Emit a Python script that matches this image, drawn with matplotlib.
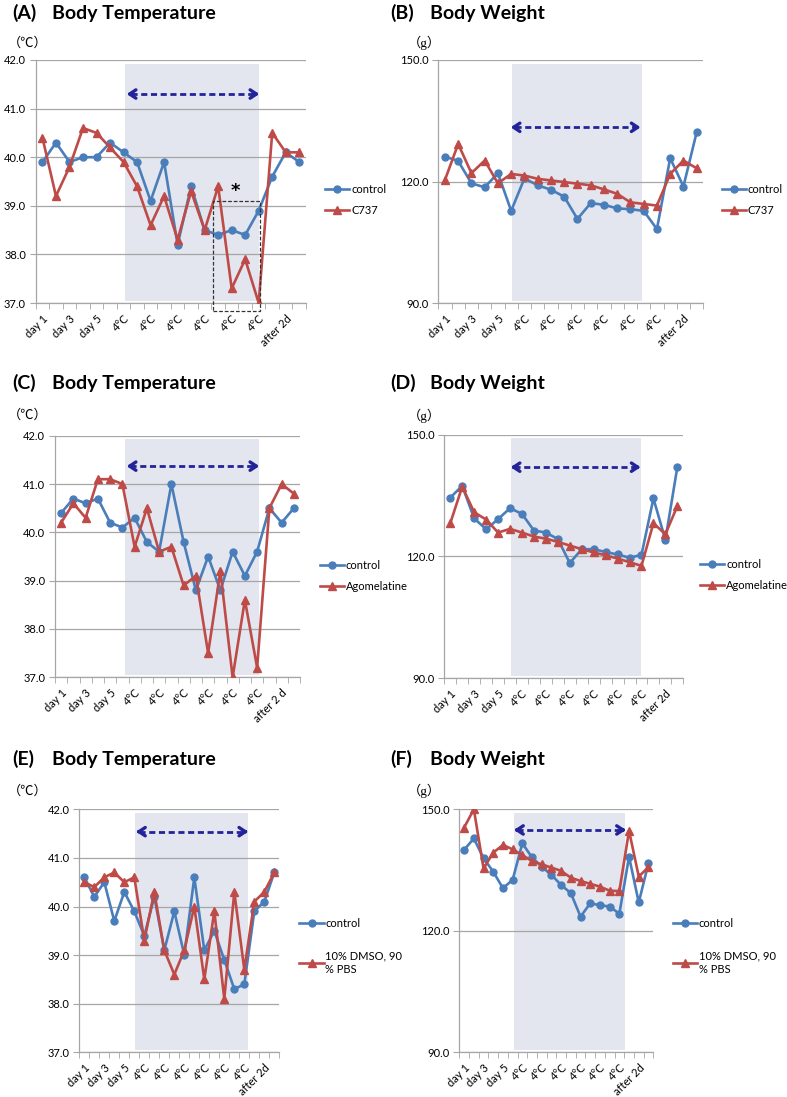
import numpy as np
import matplotlib
matplotlib.use('Agg')
import matplotlib.pyplot as plt
from matplotlib.patches import Rectangle

# --- data ---
TICK_LABELS = ['day 1', 'day 3', 'day 5', '4°C', '4°C', '4°C', '4°C', '4°C', '4°C', 'after 2d']
TICK_LABELS_C = ['day 1', 'day 3', 'day 5', '4°C', '4°C', '4°C', '4°C', '4°C', '4°C', 'after 2 d']

# (A) body temperature, C737
temp_ctrl_a = [39.9, 40.3, 39.9, 40.0, 40.0, 40.3, 40.1, 39.9, 39.1, 39.9,
               38.2, 39.4, 38.5, 38.4, 38.5, 38.4, 38.9, 39.6, 40.1, 39.9]
temp_c737 = [40.4, 39.2, 39.8, 40.6, 40.5, 40.2, 39.9, 39.4, 38.6, 39.2,
             38.3, 39.3, 38.5, 39.4, 37.3, 37.9, 37.0, 40.5, 40.1, 40.1]

# (B) body weight, C737
weight_ctrl_b = [126.2, 125.1, 119.6, 118.6, 122.1, 112.8, 120.8, 119.1, 118.0, 116.3,
                 110.8, 114.7, 114.3, 113.4, 113.2, 112.8, 108.3, 125.8, 118.8, 132.2]
weight_c737 = [120.4, 129.3, 122.1, 125.2, 119.6, 121.9, 121.5, 120.7, 120.3, 119.9,
               119.5, 119.1, 118.1, 117.0, 114.9, 114.5, 114.1, 121.9, 125.2, 123.3]

# (C) body temperature, Agomelatine
temp_ctrl_c = [40.4, 40.7, 40.6, 40.7, 40.2, 40.1, 40.3, 39.8, 39.6, 41.0,
               39.8, 38.8, 39.5, 38.8, 39.6, 39.1, 39.6, 40.5, 40.2, 40.5]
temp_agomelatine = [40.2, 40.6, 40.3, 41.1, 41.1, 41.0, 39.7, 40.5, 39.6, 39.7,
                    38.9, 39.1, 37.5, 39.2, 37.0, 38.6, 37.2, 40.5, 41.0, 40.8]

# (D) body weight, Agomelatine
weight_ctrl_d = [134.5, 137.4, 129.4, 126.7, 129.2, 131.9, 130.5, 126.4, 125.9, 124.3,
                 118.4, 121.8, 121.8, 121.1, 120.5, 119.7, 120.4, 134.3, 124.1, 142.0]
weight_agomelatine = [128.2, 137.2, 130.9, 129.1, 125.9, 126.8, 125.9, 124.9, 124.4, 123.6,
                      122.7, 121.8, 121.0, 120.3, 119.5, 118.6, 117.7, 128.2, 125.5, 132.4]

# (E) body temperature, vehicle
temp_ctrl_e = [40.6, 40.2, 40.5, 39.7, 40.3, 39.9, 39.4, 40.2, 39.1, 39.9,
               39.0, 40.6, 39.1, 39.5, 38.9, 38.3, 38.4, 39.9, 40.1, 40.7]
temp_dmso = [40.5, 40.4, 40.6, 40.7, 40.5, 40.6, 39.3, 40.3, 39.1, 38.6,
             39.1, 40.0, 38.5, 39.9, 38.1, 40.3, 38.7, 40.1, 40.3, 40.7]

# (F) body weight, vehicle
weight_ctrl_f = [140.0, 142.8, 137.9, 134.6, 130.5, 132.6, 141.6, 138.1, 135.8, 133.8,
                 131.3, 129.3, 123.5, 126.8, 126.3, 126.0, 124.2, 138.3, 127.0, 136.7]
weight_dmso = [145.5, 150.0, 135.4, 139.3, 141.2, 140.1, 138.7, 137.2, 136.4, 135.6,
               134.8, 133.1, 132.3, 131.6, 130.9, 129.9, 129.8, 144.7, 133.4, 135.7]

# --- style ---
W, H = 787, 1097
BLUE = '#4a7ebb'
RED = '#be4b48'
NAVY = '#24249a'
SHADE = '#e3e6ee'
GRID = '#a6a6a6'
FONT = ['Lato', 'DejaVu Sans']

plt.rcParams['font.family'] = FONT

fig = plt.figure(figsize=(W / 100, H / 100), dpi=100)


def draw_panel(box, ctrl, treat, treat_label, ylim, ystep, labels,
               shade, arrow, legend_pos, labelspacing=0.9):
    l, t, r, b = box
    ax = fig.add_axes([l / W, 1 - b / H, (r - l) / W, (b - t) / H])
    x = np.arange(1, len(ctrl) + 1)

    ax.axvspan(shade[0], shade[1], ymin=0.01, ymax=0.985, color=SHADE, lw=0, zorder=0)
    ax.plot(x, ctrl, color=BLUE, marker='o', ms=5, lw=1.9, label='control', zorder=3)
    ax.plot(x, treat, color=RED, marker='^', ms=5.5, lw=1.9, label=treat_label, zorder=4)

    # cold exposure arrow
    x0, x1, ya = arrow
    ax.plot([x0 + 0.3, x1 - 0.3], [ya, ya], color=NAVY, lw=2.0,
            ls=(0, (2.2, 1.3)), solid_capstyle='butt', zorder=5)
    for tip, tail in ((x0, x0 + 0.5), (x1, x1 - 0.5)):
        ax.annotate('', xy=(tip, ya), xytext=(tail, ya),
                    arrowprops=dict(arrowstyle='->,head_length=0.45,head_width=0.3',
                                    color=NAVY, lw=2.4, shrinkA=0, shrinkB=0),
                    zorder=5)

    ax.set_xlim(0.5, len(ctrl) + 0.5)
    ax.set_ylim(*ylim)
    ax.set_yticks(np.arange(ylim[0], ylim[1] + ystep / 2, ystep))
    ax.yaxis.set_major_formatter(matplotlib.ticker.FormatStrFormatter('%.1f'))
    ax.yaxis.grid(True, color=GRID, lw=0.9)
    ax.set_axisbelow(True)

    ax.set_xticks(np.arange(1, len(ctrl) + 1, 2))
    ax.set_xticklabels(labels, rotation=45, ha='right', rotation_mode='anchor', fontsize=8)
    ax.set_xticks(np.arange(0.5, len(ctrl) + 1, 1), minor=True)
    ax.tick_params(axis='x', which='major', length=0, pad=7)
    ax.tick_params(axis='x', which='minor', length=4, color=GRID, direction='out')
    ax.tick_params(axis='y', length=4, color=GRID, labelsize=8, pad=3)

    for side in ('top', 'right'):
        ax.spines[side].set_visible(False)
    for side in ('left', 'bottom'):
        ax.spines[side].set_color(GRID)
        ax.spines[side].set_linewidth(0.9)

    ax.legend(loc='center left', bbox_to_anchor=legend_pos, frameon=False,
              fontsize=8, handlelength=2.2, handletextpad=0.15,
              labelspacing=labelspacing, borderaxespad=0, borderpad=0)
    return ax


def panel_title(x, y, letter, name):
    fig.text(x / W, 1 - y / H, letter, fontsize=14, fontweight='bold', va='center')
    fig.text((x + 40) / W, 1 - y / H, name, fontsize=14, fontweight='bold', va='center')


def unit_label(x, y, txt, family):
    fig.text(x / W, 1 - y / H, txt, fontsize=9.5, va='center', family=family)


TEMP_UNIT = ['Noto Sans CJK JP', 'DejaVu Sans']
WEIGHT_UNIT = ['Liberation Serif', 'Noto Sans CJK JP']

# (A)
panel_title(12, 13, '(A)', 'Body Temperature')
unit_label(8, 43, '（℃）', TEMP_UNIT)
ax_a = draw_panel((35.7, 60, 306, 303), temp_ctrl_a, temp_c737, 'C737',
                  (37.0, 42.0), 1.0, TICK_LABELS,
                  (7.1, 17.05), (7.23, 17.05, 41.3), (1.07, 0.424))
ax_a.add_patch(Rectangle((13.64, 36.83), 17.1 - 13.64, 39.1 - 36.83, fill=False,
                         ec='#333333', lw=0.9, ls=(0, (3, 1.5)), clip_on=False, zorder=6))
ax_a.text(15.25, 39.3, '*', ha='center', va='center', fontsize=13,
          fontweight='bold', family='DejaVu Sans')

# (B)
panel_title(390, 13, '(B)', 'Body Weight')
unit_label(408, 43, '（g）', WEIGHT_UNIT)
draw_panel((438.3, 60, 703.3, 303.3), weight_ctrl_b, weight_c737, 'C737',
           (90.0, 150.0), 30.0, TICK_LABELS,
           (6.03, 15.85), (5.96, 15.77, 133.4), (1.07, 0.424))

# (C)
panel_title(12, 383, '(C)', 'Body Temperature')
unit_label(8, 415, '（℃）', TEMP_UNIT)
draw_panel((55, 435.7, 300, 677.3), temp_ctrl_c, temp_agomelatine, 'Agomelatine',
           (37.0, 42.0), 1.0, TICK_LABELS_C,
           (6.21, 17.18), (6.35, 17.18, 41.37), (1.08, 0.419))

# (D)
panel_title(390, 383, '(D)', 'Body Weight')
unit_label(408, 416, '（g）', WEIGHT_UNIT)
draw_panel((444.3, 434.7, 683.3, 678.3), weight_ctrl_d, weight_agomelatine, 'Agomelatine',
           (90.0, 150.0), 30.0, TICK_LABELS,
           (6.08, 17.0), (6.05, 16.93, 142.0), (1.07, 0.424))

# (E)
panel_title(12, 759, '(E)', 'Body Temperature')
unit_label(8, 791, '（℃）', TEMP_UNIT)
draw_panel((79.3, 809.3, 279.3, 1052.3), temp_ctrl_e, temp_dmso, '10% DMSO, 90\n% PBS',
           (37.0, 42.0), 1.0, TICK_LABELS,
           (6.07, 17.4), (6.17, 17.4, 41.54), (1.10, 0.437), labelspacing=2.0)

# (F)
panel_title(390, 759, '(F)', 'Body Weight')
unit_label(408, 791, '（g）', WEIGHT_UNIT)
draw_panel((459.3, 809.3, 653.3, 1052.3), weight_ctrl_f, weight_dmso, '10% DMSO, 90\n% PBS',
           (90.0, 150.0), 30.0, TICK_LABELS,
           (6.14, 17.58), (6.14, 17.68, 144.9), (1.10, 0.437), labelspacing=2.0)

fig.savefig('out.png', dpi=100)
